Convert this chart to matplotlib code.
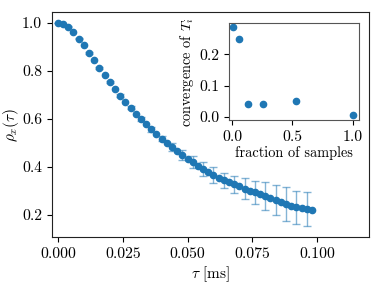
import numpy as np
import matplotlib
matplotlib.use("Agg")
import matplotlib.pyplot as plt

plt.rcParams['font.family'] = 'serif'
plt.rcParams['font.serif'] = ['cmr10']
plt.rcParams['mathtext.fontset'] = 'cm'
plt.rcParams['axes.formatter.use_mathtext'] = True
plt.rcParams['font.size'] = 10
plt.rcParams['xtick.labelsize'] = 11.3
plt.rcParams['ytick.labelsize'] = 11.3

# main data
tau = [i * 0.002 for i in range(50)]
rho = [1.000, 0.996, 0.983, 0.960, 0.933, 0.905, 0.873, 0.842, 0.811, 0.781,
       0.752, 0.723, 0.696, 0.671, 0.646, 0.621, 0.598, 0.577, 0.555, 0.535,
       0.516, 0.498, 0.481, 0.464, 0.447, 0.432, 0.418, 0.404, 0.390, 0.377,
       0.365, 0.354, 0.343, 0.334, 0.326, 0.317, 0.308, 0.300, 0.292, 0.284,
       0.277, 0.269, 0.261, 0.253, 0.245, 0.237, 0.231, 0.226, 0.222, 0.220]
rho_err = [0.000, 0.000, 0.001, 0.001, 0.002, 0.002, 0.003, 0.003, 0.004, 0.004,
           0.005, 0.005, 0.006, 0.006, 0.007, 0.007, 0.008, 0.008, 0.009, 0.009,
           0.011, 0.011, 0.017, 0.017, 0.021, 0.021, 0.026, 0.026, 0.028, 0.028,
           0.033, 0.033, 0.031, 0.031, 0.035, 0.035, 0.043, 0.043, 0.047, 0.047,
           0.057, 0.057, 0.064, 0.064, 0.070, 0.070, 0.069, 0.069, 0.070, 0.070]

# inset data
fraction = [0.01, 0.06, 0.13, 0.26, 0.53, 1.0]
convergence = [0.288, 0.248, 0.043, 0.043, 0.051, 0.005]

blue = '#1f77b4'
fig = plt.figure(figsize=(3.82, 2.86), dpi=100)
ax = fig.add_axes([0.136, 0.171, 0.830, 0.787])
ax.errorbar(tau, rho, yerr=rho_err, fmt='none', ecolor=blue, alpha=0.55,
            elinewidth=1.0, capsize=3, capthick=1.0, errorevery=2)
ax.plot(tau, rho, 'o', color=blue, markersize=4.5)
ax.set_xlim(-0.0023, 0.1200)
ax.set_ylim(0.106, 1.044)
ax.set_xticks([0.0, 0.025, 0.05, 0.075, 0.1])
ax.set_xticklabels(['0.000', '0.025', '0.050', '0.075', '0.100'])
ax.set_yticks([0.2, 0.4, 0.6, 0.8, 1.0])
ax.set_yticklabels(['0.2', '0.4', '0.6', '0.8', '1.0'])
ax.set_xlabel(r'$\tau$ [ms]', fontsize=11, labelpad=3)
ax.set_ylabel(r'$\rho_x(\tau)$', fontsize=11, labelpad=1)
for s in ax.spines.values():
    s.set_color('#222222')

ins = fig.add_axes([0.599, 0.580, 0.342, 0.338])
ins.plot(fraction, convergence, 'o', color=blue, markersize=4.5)
ins.set_xlim(-0.027, 1.055)
ins.set_ylim(-0.010, 0.299)
ins.set_xticks([0.0, 0.5, 1.0])
ins.set_xticklabels(['0.0', '0.5', '1.0'])
ins.set_yticks([0.0, 0.1, 0.2])
ins.set_yticklabels(['0.0', '0.1', '0.2'])
ins.set_xlabel('fraction of samples', fontsize=10.3, labelpad=2)
ins.set_ylabel(r'convergence of $T_i$', fontsize=10.3, labelpad=2)
for s in ins.spines.values():
    s.set_color('#555555')

fig.savefig('out.png', dpi=100)
